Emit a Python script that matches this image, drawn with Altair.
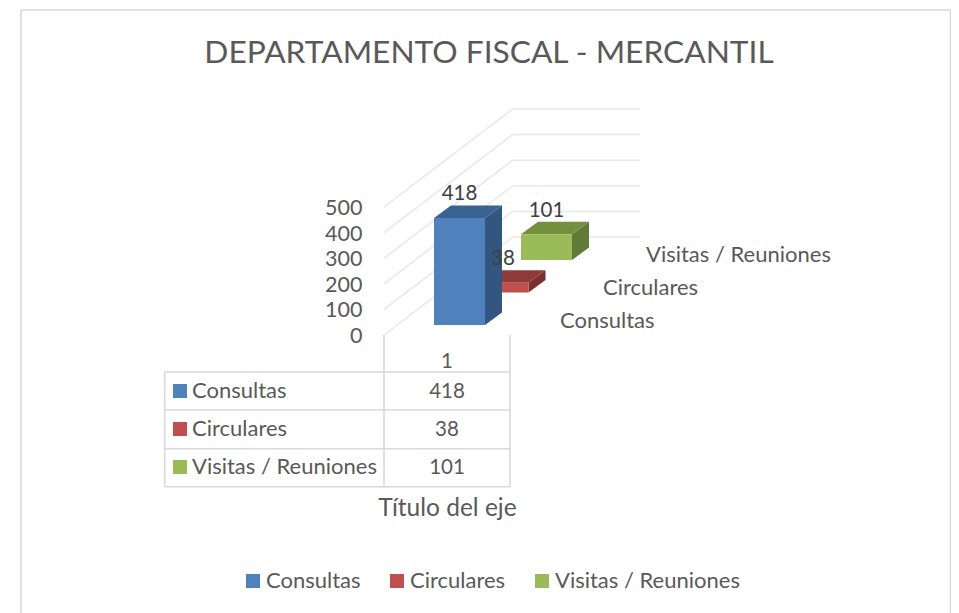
import altair as alt
import pandas as pd

# ---- values
SERIES = ["Consultas", "Circulares", "Visitas / Reuniones"]
VALUES = [418, 38, 101]
CATEGORY = "1"
TICKS = [0, 100, 200, 300, 400, 500]
TITLE = "DEPARTAMENTO FISCAL - MERCANTIL"
AXIS_TITLE = "Título del eje"

FRONT = ["#4f81bd", "#c0504d", "#9bbb59"]
TOP = ["#3a6391", "#8f3b39", "#74903f"]
SIDE = ["#32567f", "#7a2f2d", "#617a36"]
TEXT = "#595959"
LABEL = "#404040"
GRID = "#e8e8e8"
LINE = "#d9d9d9"
FONT = "Lato"
FS = 22
FS_NUM = 20.5

W, H = 943, 605
M = 8
PX_PER_UNIT = 0.256
ZERO_PY = 335.0


def X(px):
    return px - M


def U(py):
    """page y -> value units of the y scale"""
    return (ZERO_PY - py) / PX_PER_UNIT


xs = alt.Scale(domain=[0, W], nice=False, zero=False)
ys = alt.Scale(domain=[U(M + H), U(M)], nice=False, zero=False)

AX = alt.Axis(
    title=AXIS_TITLE, labels=False, ticks=False, domain=False, grid=False,
    titleFont=FONT, titleFontSize=24.5, titleFontWeight="normal", titleColor=TEXT,
    titleX=X(447), titleY=508 - (M + H), titleBaseline="middle", titleAlign="center")
AY = alt.Axis(
    title=None, values=TICKS, ticks=False, domain=False, grid=False, offset=-354,
    labelPadding=0, labelFont=FONT, labelFontSize=21.5, labelColor=TEXT, labelOffset=1.5)

# 3-D projection
STEP_X, STEP_Y = 43.5, 32.5        # one series further back
BAR_W = 51.0
TOP_X, TOP_Y = 17.0, 12.5          # depth of one bar
BAR_X0 = 434.0
BAR_BASE = 325.0


def Xe(**k):
    return alt.X(**k, scale=xs, axis=AX)


def Ye(**k):
    return alt.Y(**k, scale=ys, axis=AY)


layers = []


def rule_df(rows):
    return pd.DataFrame(rows, columns=["x", "x2", "y", "y2"])


# frame of the chart
frame = rule_df([
    (X(21), X(21), U(10), U(M + H)),
    (X(950.5), X(950.5), U(10), U(M + H)),
    (X(21), X(950.5), U(10), U(10)),
])
layers.append(alt.Chart(frame).mark_rule(color=LINE, strokeWidth=1.6).encode(
    x=Xe(field="x", type="quantitative"), x2="x2:Q",
    y=Ye(field="y", type="quantitative"), y2="y2:Q"))

# walls: grid lines
WALL_DX, WALL_DY = 128.7, 98.0
BACK_END = 640.0
wall_rows = []
for t in TICKS:
    py = ZERO_PY - t * PX_PER_UNIT
    wall_rows.append((X(384), X(384 + WALL_DX), U(py), U(py - WALL_DY)))
    wall_rows.append((X(384 + WALL_DX), X(BACK_END), U(py - WALL_DY), U(py - WALL_DY)))
layers.append(alt.Chart(rule_df(wall_rows)).mark_rule(color=GRID, strokeWidth=1.5).encode(
    x=Xe(field="x", type="quantitative"), x2="x2:Q",
    y=Ye(field="y", type="quantitative"), y2="y2:Q"))

# bars, back to front
for i in [2, 1, 0]:
    v = VALUES[i]
    x0 = BAR_X0 + STEP_X * i
    x1 = x0 + BAR_W
    base = U(BAR_BASE - STEP_Y * i)
    top = base + v
    dy_u = TOP_Y / PX_PER_UNIT
    side = pd.DataFrame({"x": [X(x1), X(x1 + TOP_X)],
                         "y": [base, base + dy_u],
                         "y2": [top, top + dy_u]})
    layers.append(alt.Chart(side).mark_area(color=SIDE[i], orient="vertical").encode(
        x=Xe(field="x", type="quantitative"),
        y=Ye(field="y", type="quantitative"), y2="y2:Q"))
    topf = pd.DataFrame({"y": [top, top + dy_u],
                         "x": [X(x0), X(x0 + TOP_X)],
                         "x2": [X(x1), X(x1 + TOP_X)]})
    layers.append(alt.Chart(topf).mark_area(color=TOP[i], orient="horizontal").encode(
        y=Ye(field="y", type="quantitative"),
        x=Xe(field="x", type="quantitative"), x2="x2:Q"))
    front = pd.DataFrame({"x": [X(x0)], "x2": [X(x1)], "y": [base], "y2": [top]})
    layers.append(alt.Chart(front).mark_rect(color=FRONT[i]).encode(
        x=Xe(field="x", type="quantitative"), x2="x2:Q",
        y=Ye(field="y", type="quantitative"), y2="y2:Q"))


def text_layer(df, align="center", size=FS, color=TEXT):
    return alt.Chart(df).mark_text(font=FONT, fontSize=size, color=color, align=align,
                                   baseline="middle").encode(
        x=Xe(field="x", type="quantitative"),
        y=Ye(field="y", type="quantitative"),
        text="t:N")


# data labels
labels = pd.DataFrame({
    "x": [X(BAR_X0 + STEP_X * i + BAR_W / 2) for i in range(3)],
    "y": [U(BAR_BASE - STEP_Y * i - 23.5) + VALUES[i] for i in range(3)],
    "t": [str(v) for v in VALUES],
})
layers.append(text_layer(labels, size=FS_NUM, color=LABEL))

# series names on the depth axis
depth = pd.DataFrame({
    "x": [X(560 + 43 * i) for i in range(3)],
    "y": [U(321 - 33 * i) for i in range(3)],
    "t": SERIES,
})
layers.append(text_layer(depth, align="left"))

# data table: lines
TX = [164.7, 384.0, 510.0]
TY = [372.0, 410.0, 448.7, 486.7]
table_rows = [(X(TX[0]), X(TX[2]), U(y), U(y)) for y in TY]
table_rows += [(X(TX[0]), X(TX[0]), U(TY[0]), U(TY[3]))]
table_rows += [(X(TX[1]), X(TX[1]), U(ZERO_PY), U(TY[3])),
               (X(TX[2]), X(TX[2]), U(ZERO_PY), U(TY[3]))]
layers.append(alt.Chart(rule_df(table_rows)).mark_rule(color=LINE, strokeWidth=1.6).encode(
    x=Xe(field="x", type="quantitative"), x2="x2:Q",
    y=Ye(field="y", type="quantitative"), y2="y2:Q"))

# data table: texts
rows_y = [391.0, 429.0, 467.0]
layers.append(text_layer(pd.DataFrame({
    "x": [X(447)] * 4,
    "y": [U(361.5)] + [U(y + 1) for y in rows_y],
    "t": [CATEGORY] + [str(v) for v in VALUES],
}), size=FS_NUM))
layers.append(text_layer(pd.DataFrame({
    "x": [X(192)] * 3,
    "y": [U(y) for y in rows_y],
    "t": SERIES,
}), align="left"))

# data table: keys, which also give the bottom legend
keys = pd.DataFrame({
    "series": SERIES,
    "x": [X(173)] * 3,
    "x2": [X(187)] * 3,
    "y": [U(y - 7) for y in rows_y],
    "y2": [U(y + 7) for y in rows_y],
})
layers.append(alt.Chart(keys).mark_rect().encode(
    x=Xe(field="x", type="quantitative"), x2="x2:Q",
    y=Ye(field="y", type="quantitative"), y2="y2:Q",
    color=alt.Color("series:N",
                    scale=alt.Scale(domain=SERIES, range=FRONT),
                    legend=alt.Legend(orient="none", legendX=X(242), legendY=X(570),
                                      direction="horizontal", title=None, padding=0,
                                      symbolType="square", symbolSize=196,
                                      symbolStrokeWidth=0, labelFont=FONT,
                                      labelFontSize=FS, labelColor=TEXT, labelLimit=300,
                                      labelOffset=2, columnPadding=25))))

chart = alt.layer(*layers).properties(
    width=W, height=H, padding=0,
    autosize=alt.AutoSizeParams(type="none"),
    title=alt.TitleParams(TITLE, font=FONT, fontSize=31.7, fontWeight="normal", color=TEXT,
                          anchor="middle", frame="group", dx=9.5, dy=66),
).configure_view(stroke=None)

chart.save("out.html", embed_options={"renderer": "svg", "actions": False})
